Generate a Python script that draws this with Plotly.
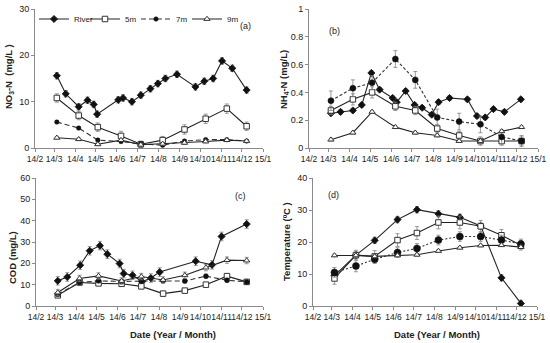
import plotly.graph_objects as go
from plotly.subplots import make_subplots

# ---------------- data ----------------
tick_dates = ["2014-02-01", "2014-03-01", "2014-04-01", "2014-05-01", "2014-06-01", "2014-07-01",
              "2014-08-01", "2014-09-01", "2014-10-01", "2014-11-01", "2014-12-01", "2015-01-01"]
tick_labels = ["14/2", "14/3", "14/4", "14/5", "14/6", "14/7", "14/8", "14/9", "14/10", "14/11", "14/12", "15/1"]

well_dates = ["2014-03-05", "2014-04-06", "2014-05-04", "2014-06-07", "2014-07-06",
              "2014-08-07", "2014-09-08", "2014-10-09", "2014-11-09", "2014-12-08"]

# (a) NO3-N
river_dates_a = ["2014-03-05", "2014-03-18", "2014-04-06", "2014-04-19", "2014-04-28", "2014-05-03",
                 "2014-06-03", "2014-06-10", "2014-06-23", "2014-07-06", "2014-07-20", "2014-07-31",
                 "2014-08-11", "2014-08-28", "2014-09-24", "2014-10-07", "2014-10-20", "2014-11-02",
                 "2014-11-17", "2014-12-08"]
river_no3 = [15.6, 11.7, 8.9, 10.3, 9.4, 7.3, 10.4, 10.8, 10.0, 11.4, 12.8, 13.9, 15.0, 15.9,
             13.2, 14.4, 15.0, 18.8, 17.2, 12.5]
river_no3_err = [0.7] * 20
m5_no3 = [10.8, 7.0, 4.5, 2.6, 0.8, 1.7, 4.0, 6.3, 8.5, 4.7]
m5_no3_err = [0.9, 0.9, 0.9, 1.0, 0.7, 0.8, 1.0, 1.0, 1.0, 0.9]
m7_no3 = [5.6, 4.3, 1.7, 1.4, 0.9, 0.6, 1.5, 1.8, 1.8, 1.5]
m7_no3_err = [0.3] * 10
m9_no3 = [2.2, 1.9, 0.8, 1.7, 0.7, 0.9, 1.1, 1.4, 1.7, 1.5]
m9_no3_err = [0.3] * 10

# (b) NH4-N
river_dates_b = ["2014-03-05", "2014-03-19", "2014-04-06", "2014-04-19", "2014-05-03", "2014-05-15",
                 "2014-06-03", "2014-06-09", "2014-06-22", "2014-07-05", "2014-07-16", "2014-07-30",
                 "2014-08-09", "2014-08-25", "2014-09-20", "2014-10-04", "2014-10-16", "2014-10-28",
                 "2014-11-13", "2014-12-07"]
river_nh4 = [0.25, 0.26, 0.27, 0.31, 0.54, 0.42, 0.36, 0.33, 0.41, 0.31, 0.29, 0.24,
             0.33, 0.36, 0.35, 0.23, 0.22, 0.28, 0.26, 0.35]
river_nh4_err = [0.015] * 20
m5_nh4 = [0.27, 0.35, 0.40, 0.30, 0.27, 0.14, 0.09, 0.05, 0.05, 0.05]
m5_nh4_err = [0.03, 0.04, 0.04, 0.03, 0.03, 0.03, 0.03, 0.03, 0.03, 0.03]
m7_nh4 = [0.34, 0.43, 0.47, 0.64, 0.49, 0.22, 0.19, 0.17, 0.08, 0.05]
m7_nh4_err = [0.07, 0.06, 0.05, 0.06, 0.06, 0.06, 0.06, 0.06, 0.05, 0.04]
m9_nh4 = [0.06, 0.11, 0.26, 0.15, 0.11, 0.09, 0.05, 0.05, 0.12, 0.15]
m9_nh4_err = [0.01] * 10

# (c) COD
river_dates_c = ["2014-03-05", "2014-03-19", "2014-04-07", "2014-04-21", "2014-05-06", "2014-05-17",
                 "2014-06-04", "2014-06-10", "2014-06-23", "2014-07-07", "2014-07-20", "2014-08-02",
                 "2014-09-24", "2014-10-18", "2014-11-01", "2014-12-08"]
river_cod = [11.8, 13.6, 19.1, 25.9, 28.3, 24.3, 19.9, 15.2, 14.4, 11.4, 13.1, 15.9,
             21.0, 19.3, 32.6, 38.4]
river_cod_err = [2.0] * 16
m5_cod = [5.0, 11.0, 10.6, 10.4, 9.2, 5.8, 7.2, 10.0, 14.0, 11.3]
m5_cod_err = [0.8] * 10
m7_cod = [5.5, 11.0, 11.8, 11.5, 11.7, 11.8, 11.7, 14.0, 12.1, 11.3]
m7_cod_err = [0.8] * 10
m9_cod = [6.3, 12.9, 14.1, 11.7, 13.8, 12.2, 14.4, 18.0, 21.5, 21.3]
m9_cod_err = [1.5] * 10

# (d) Temperature
river_temp = [9.5, 15.9, 20.5, 27.0, 30.1, 28.8, 27.7, 25.0, 8.8, 0.8]
river_temp_err = [1.0] * 10
m5_temp = [8.6, 15.9, 15.5, 20.6, 22.8, 26.1, 26.1, 24.9, 22.1, 19.0]
m5_temp_err = [1.8, 1.5, 1.8, 2.0, 2.0, 2.0, 2.0, 1.8, 1.8, 1.5]
m7_temp = [10.5, 12.5, 14.6, 16.7, 18.0, 20.6, 21.7, 21.7, 20.6, 19.4]
m7_temp_err = [1.5, 1.8, 1.3, 1.5, 1.5, 1.5, 1.5, 1.5, 1.5, 1.5]
m9_temp = [15.8, 15.8, 15.5, 15.8, 16.0, 17.2, 18.2, 18.9, 19.0, 18.4]
m9_temp_err = [0.4] * 10

# ---------------- figure ----------------
fig = make_subplots(rows=2, cols=2)

LINE = "#222222"
ERR = "#808080"
FONT = "Liberation Sans, Arial, sans-serif"


def add_series(row, col, x, y, err, name, kind, dash_style, show, dot_size):
    styles = {
        "river": dict(symbol="diamond", size=5.5, color="#111111", line=dict(width=0.8, color="#111111")),
        "5m": dict(symbol="square", size=5.5, color="white", line=dict(width=1, color="#333333")),
        "7m": dict(symbol="circle", size=dot_size, color="#111111", line=dict(width=0.5, color="#111111")),
        "9m": dict(symbol="triangle-up", size=5.5, color="white", line=dict(width=1, color="#333333")),
    }
    fig.add_trace(go.Scatter(
        x=x, y=y, name=name, mode="lines+markers",
        line=dict(color=LINE if kind != "7m" else "#333333", width=1.1, dash=dash_style),
        marker=styles[kind],
        error_y=dict(type="data", array=err, visible=True, color=ERR, thickness=0.8, width=2),
        showlegend=show, legendgroup=name,
    ), row=row, col=col)


panels = [
    (1, 1, river_dates_a, river_no3, river_no3_err, m5_no3, m5_no3_err, m7_no3, m7_no3_err, m9_no3, m9_no3_err, "5px,3px", 4.5),
    (1, 2, river_dates_b, river_nh4, river_nh4_err, m5_nh4, m5_nh4_err, m7_nh4, m7_nh4_err, m9_nh4, m9_nh4_err, "3px,2px", 6),
    (2, 1, river_dates_c, river_cod, river_cod_err, m5_cod, m5_cod_err, m7_cod, m7_cod_err, m9_cod, m9_cod_err, "5px,3px", 5),
    (2, 2, well_dates, river_temp, river_temp_err, m5_temp, m5_temp_err, m7_temp, m7_temp_err, m9_temp, m9_temp_err, "2px,2px", 7),
]
for (r, c, rd, rv, re, a5, e5, a7, e7, a9, e9, dsh, ds) in panels:
    show = (r == 1 and c == 1)
    add_series(r, c, rd, rv, re, "River", "river", "solid", show, ds)
    add_series(r, c, well_dates, a5, e5, "5m", "5m", "solid", show, ds)
    add_series(r, c, well_dates, a7, e7, "7m", "7m", dsh, show, ds)
    add_series(r, c, well_dates, a9, e9, "9m", "9m", "solid", show, ds)

W, H = 550, 343
xdom_tl = [35 / W, 263 / W]
xdom_tr = [309 / W, 538 / W]
xdom_bl = [36 / W, 263 / W]
xdom_br = [313 / W, 537 / W]
ydom_t = [(H - 148) / H, (H - 9) / H]
ydom_b = [(H - 306) / H, (H - 178) / H]

axis_common = dict(showline=True, linecolor="#8a8a8a", linewidth=1, ticks="outside", ticklen=3,
                   tickcolor="#8a8a8a", showgrid=False, zeroline=False, automargin=False,
                   tickfont=dict(size=9, color="#222", family=FONT))

xcommon = dict(axis_common, type="date", range=["2014-02-01", "2015-01-01"],
               tickmode="array", tickvals=tick_dates, ticktext=tick_labels, tickangle=0,
               tickfont=dict(size=8.5, color="#222", family=FONT))

fig.update_layout(
    xaxis=dict(xcommon, domain=xdom_tl, anchor="y"),
    xaxis2=dict(xcommon, domain=xdom_tr, anchor="y2"),
    xaxis3=dict(xcommon, domain=xdom_bl, anchor="y3"),
    xaxis4=dict(xcommon, domain=xdom_br, anchor="y4"),
    yaxis=dict(axis_common, domain=ydom_t, anchor="x", range=[0, 30], dtick=10),
    yaxis2=dict(axis_common, domain=ydom_t, anchor="x2", range=[0, 1], dtick=0.2),
    yaxis3=dict(axis_common, domain=ydom_b, anchor="x3", range=[0, 60], dtick=10),
    yaxis4=dict(axis_common, domain=ydom_b, anchor="x4", range=[0, 40], dtick=10),
    width=W, height=H,
    margin=dict(l=0, r=0, t=0, b=0),
    paper_bgcolor="white", plot_bgcolor="white",
    font=dict(family=FONT, size=9, color="#222"),
    legend=dict(orientation="h", x=34 / W, y=(H - 19) / H, xanchor="left", yanchor="middle",
                bgcolor="rgba(0,0,0,0)", font=dict(size=8, family=FONT, color="#222"),
                itemwidth=30, tracegroupgap=0, entrywidth=6, entrywidthmode="pixels"),
)

# axis titles
title_font = dict(size=9.5, family=FONT, color="#222")
axis_titles = [
    ("<b>NO<sub>3</sub>-N  (mg/L )</b>", 9, 77, -90),
    ("<b>NH<sub>4</sub>-N (mg/L)</b>", 284, 80, -90),
    ("<b>COD (mg/L)</b>", 12, 258, -90),
    ("<b>Temperature (ºC )</b>", 286, 242, -90),
    ("<b>Date (Year / Month)</b>", 173, 334, 0),
    ("<b>Date (Year / Month)</b>", 437, 334, 0),
]
for t, px, py, ang in axis_titles:
    fig.add_annotation(text=t, xref="paper", yref="paper", x=px / W, y=(H - py) / H,
                       xanchor="center", yanchor="middle", showarrow=False, textangle=ang,
                       font=title_font)

labels = [("(a)", "x domain", "y domain", 0.955, 0.928),
          ("(b)", "x2 domain", "y2 domain", 0.08, 0.89),
          ("(c)", "x3 domain", "y3 domain", 0.934, 0.914),
          ("(d)", "x4 domain", "y4 domain", 0.06, 0.92)]
for t, xr, yr, xx, yy in labels:
    fig.add_annotation(text=t, xref=xr, yref=yr, x=xx, y=yy, showarrow=False,
                       font=dict(size=9, family=FONT, color="#222"))

fig.write_html("out.html", config={"displayModeBar": False},
               post_script="document.body.style.margin='0px';")
